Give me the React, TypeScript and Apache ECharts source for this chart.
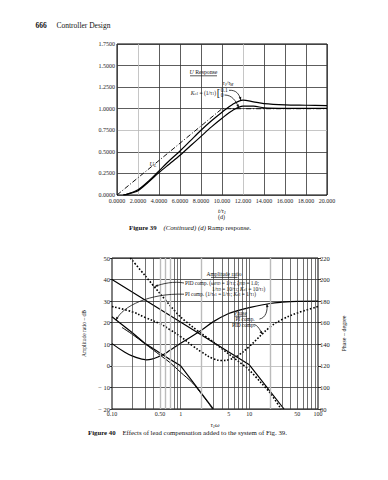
import React, { useEffect, useRef } from "react";
import * as echarts from "echarts";

const FONT = '"Liberation Serif", "DejaVu Serif", serif';

// ---------- Figure 39 (d): ramp response ----------
const rampTimes = [0, 10, 20];
const rampInput = [0, 1, 1]; // U_L
const responseTimes = [0.6, 1, 2, 3, 4, 5, 6, 7, 8, 9, 10, 11, 12, 13, 14, 16, 18, 20];
const responseTau01 = [0, 0.01, 0.06, 0.16, 0.28, 0.4, 0.51, 0.63, 0.75, 0.86, 0.96, 1.05, 1.1, 1.08, 1.06, 1.045, 1.04, 1.035];
const responseTau0 = [0, 0.01, 0.05, 0.15, 0.26, 0.36, 0.46, 0.57, 0.68, 0.79, 0.89, 0.98, 1.03, 1.03, 1.01, 1.005, 1.005, 1.005];
const rampXRange = [0, 20, 2];
const rampYRange = [0, 1.75, 0.25];

// ---------- Figure 40: lead compensation ----------
const lineAFreq = [0.1, 10, 32];
const lineAAmp = [40, 0.5, -20];
const pidAmpFreq = [0.185, 0.3, 0.5, 0.7, 1, 1.5, 2, 3, 5, 7, 10, 15, 20, 29];
const pidAmp = [50, 42, 33.5, 28, 22.6, 18, 15, 11, 5.5, 2, -2, -8, -12.5, -20];
const piAmpFreq = [0.1, 0.2, 0.3, 0.5, 0.7, 1, 3];
const piAmp = [22.8, 15.2, 10.5, 6, 3, 0, -20];
const piAmp2Freq = [0.14, 0.2, 0.3, 0.5, 0.7, 1, 1.5, 2, 2.5, 2.9];
const piAmp2 = [17.8, 14.5, 10.3, 5, 1.5, -3, -8, -13, -17, -20];
const piPhaseFreq = [0.1, 0.15, 0.2, 0.32, 0.5, 0.7, 1, 2, 3, 5, 7, 10, 20, 30, 50, 100];
const piPhase = [140.6, 133, 129, 125.6, 129, 134.4, 141, 153, 161, 168.5, 171.5, 174, 177.8, 179, 179.8, 180];
const pidPhaseFreq = [0.1, 0.2, 0.3, 0.5, 0.7, 1, 1.5, 2, 3, 4, 5, 7, 10, 20, 30, 50, 100];
const pidPhase = [175, 170, 165, 159, 153.5, 147, 138.5, 133, 126.5, 125, 125.6, 130, 138, 156, 163, 169, 175];
const ampRange = [-20, 50, 10];
const phaseRange = [80, 220, 20];
const freqRange = [0.1, 100];
const gridFreqs = [0.2, 0.3, 0.4, 0.5, 0.6, 0.7, 0.8, 0.9, 1, 2, 3, 4, 5, 6, 7, 8, 9, 10, 20, 30, 40, 50, 60, 70, 80, 90];
const grayFreqs = [0.5, 0.6, 0.7, 2, 20];
const extraFreqLabels = [0.5, 5, 50];

const pairs = (xs: number[], ys: number[]) => xs.map((x, i) => [x, ys[i]]);

const richSet = (size: number) => ({
  n: { fontFamily: FONT, fontSize: size, color: "#111", fill: "#111" },
  i: { fontFamily: FONT, fontSize: size, fontStyle: "italic", color: "#111", fill: "#111" },
  b: { fontFamily: FONT, fontSize: size, fontWeight: "bold", color: "#111", fill: "#111" },
  s: { fontFamily: FONT, fontSize: size * 0.7, color: "#111", fill: "#111", padding: [size * 0.45, 0, 0, 0] },
  si: { fontFamily: FONT, fontSize: size * 0.7, fontStyle: "italic", color: "#111", fill: "#111", padding: [size * 0.45, 0, 0, 0] },
  br: { fontFamily: FONT, fontSize: size * 1.9, color: "#111", fill: "#111" },
});

const tickFont = { fontFamily: FONT, fontSize: 6, color: "#222" };
const dotted = { color: "#000", width: 1.6, type: [1.6, 1.8] };

function buildOption(): any {
  const topXColors = Array.from({ length: 11 }, (_, i) => (i === 1 || i === 6 ? "#b8b8b8" : "#333"));
  const topYColors = Array.from({ length: 8 }, (_, i) => (i === 3 ? "#b8b8b8" : "#333"));
  const botYColors = Array.from({ length: 8 }, (_, i) => (i === 2 ? "#b8b8b8" : "#333"));
  const lineBase = { type: "line", symbol: "none", silent: true };
  return {
    animation: false,
    backgroundColor: "#fff",
    grid: [
      { left: 117, top: 44, width: 210, height: 151, show: true, borderColor: "#000", borderWidth: 1, backgroundColor: "transparent" },
      { left: 112, top: 258, width: 206, height: 151, show: true, borderColor: "#000", borderWidth: 1, backgroundColor: "transparent" },
    ],
    xAxis: [
      {
        gridIndex: 0, type: "value", min: rampXRange[0], max: rampXRange[1], interval: rampXRange[2],
        axisLine: { show: false }, axisTick: { show: false },
        axisLabel: { ...tickFont, margin: 3, formatter: (v: number) => (v < 10 ? v.toFixed(4) : v.toFixed(3)) },
        splitLine: { show: true, lineStyle: { color: topXColors, width: 0.8 } },
        name: "{i|t/τ}{si|1}", nameLocation: "middle", nameGap: 12,
        nameTextStyle: { rich: richSet(6.5) },
      },
      {
        gridIndex: 1, type: "log", logBase: 10, min: freqRange[0], max: freqRange[1],
        axisLine: { show: false }, axisTick: { show: false },
        axisLabel: { ...tickFont, margin: 2, formatter: (v: number) => (Math.abs(v - 0.1) < 1e-6 ? "0.10" : String(Math.round(v))) },
        splitLine: { show: false }, minorSplitLine: { show: false },
        name: "{i|τ}{si|1}{i|ω}", nameLocation: "middle", nameGap: 12,
        nameTextStyle: { rich: richSet(6.5) },
      },
    ],
    yAxis: [
      {
        gridIndex: 0, type: "value", min: rampYRange[0], max: rampYRange[1], interval: rampYRange[2],
        axisLine: { show: false }, axisTick: { show: false },
        axisLabel: { ...tickFont, margin: 2, formatter: (v: number) => v.toFixed(4) },
        splitLine: { show: true, lineStyle: { color: topYColors, width: 0.8 } },
      },
      {
        gridIndex: 1, type: "value", position: "left", min: ampRange[0], max: ampRange[1], interval: ampRange[2],
        axisLine: { show: false }, axisTick: { show: true, length: 2, lineStyle: { color: "#000", width: 0.8 } },
        axisLabel: { ...tickFont, fontSize: 6.5, margin: 2, formatter: (v: number) => (v < 0 ? "− " + Math.abs(v) : String(v)) },
        splitLine: { show: true, lineStyle: { color: botYColors, width: 0.8 } },
        name: "Amplitude ratio – dB", nameLocation: "middle", nameGap: 15, nameRotate: 90,
        nameTextStyle: { fontFamily: FONT, fontSize: 5.5, color: "#111" },
      },
      {
        gridIndex: 1, type: "value", position: "right", min: phaseRange[0], max: phaseRange[1], interval: phaseRange[2],
        axisLine: { show: false }, axisTick: { show: true, length: 3, lineStyle: { color: "#000", width: 0.8 } },
        axisLabel: { ...tickFont, fontSize: 6.5, margin: 2 },
        splitLine: { show: false },
        name: "Phase – degree", nameLocation: "middle", nameGap: 20, nameRotate: 90,
        nameTextStyle: { fontFamily: FONT, fontSize: 6, color: "#111" },
      },
    ],
    series: [
      { ...lineBase, xAxisIndex: 0, yAxisIndex: 0, data: pairs(rampTimes, rampInput), lineStyle: { color: "#111", width: 1, type: [5, 2, 1, 2] } },
      { ...lineBase, xAxisIndex: 0, yAxisIndex: 0, smooth: 0.3, data: pairs(responseTimes, responseTau01), lineStyle: { color: "#000", width: 1.2 } },
      { ...lineBase, xAxisIndex: 0, yAxisIndex: 0, smooth: 0.3, data: pairs(responseTimes, responseTau0), lineStyle: { color: "#000", width: 1.2 } },
      {
        ...lineBase, xAxisIndex: 1, yAxisIndex: 1, data: [], z: 1,
        markLine: {
          silent: true, symbol: ["none", "none"], label: { show: false }, animation: false,
          data: gridFreqs.map((f) => ({
            xAxis: f,
            lineStyle: grayFreqs.includes(f)
              ? { color: "#bbbbbb", width: 1.4, type: "solid" }
              : { color: "#333", width: 0.7, type: "solid" },
          })),
        },
      },
      { ...lineBase, xAxisIndex: 1, yAxisIndex: 1, data: pairs(lineAFreq, lineAAmp), lineStyle: { color: "#000", width: 1.2 } },
      { ...lineBase, xAxisIndex: 1, yAxisIndex: 1, smooth: 0.3, data: pairs(pidAmpFreq, pidAmp), lineStyle: dotted },
      { ...lineBase, xAxisIndex: 1, yAxisIndex: 1, data: pairs(piAmpFreq, piAmp), lineStyle: { color: "#000", width: 1.2 } },
      { ...lineBase, xAxisIndex: 1, yAxisIndex: 1, smooth: 0.3, data: pairs(piAmp2Freq, piAmp2), lineStyle: { color: "#000", width: 1 } },
      { ...lineBase, xAxisIndex: 1, yAxisIndex: 2, smooth: 0.4, data: pairs(piPhaseFreq, piPhase), lineStyle: { color: "#000", width: 1.2 } },
      { ...lineBase, xAxisIndex: 1, yAxisIndex: 2, smooth: 0.4, data: pairs(pidPhaseFreq, pidPhase), lineStyle: dotted },
    ],
  };
}

function txt(x: number, y: number, text: string, size: number, align = "left", extra: any = {}) {
  return {
    type: "text", x, y, silent: true, z: 100,
    style: {
      text, rich: richSet(size), fontFamily: FONT, fontSize: size, fill: "#111",
      align, verticalAlign: "middle", textAlign: align, textVerticalAlign: "middle", ...extra,
    },
  };
}

function hline(x1: number, x2: number, y: number) {
  return { type: "line", silent: true, z: 100, shape: { x1, y1: y, x2, y2: y }, style: { stroke: "#111", lineWidth: 0.7 } };
}

function arrow(p0: number[], p1: number[], p2: number[], p3: number[]) {
  const dx = p3[0] - p2[0];
  const dy = p3[1] - p2[1];
  const len = Math.hypot(dx, dy) || 1;
  const ux = dx / len, uy = dy / len;
  const L = 3.2, W = 1.3;
  const bx = p3[0] - ux * L, by = p3[1] - uy * L;
  return [
    {
      type: "bezierCurve", silent: true, z: 100,
      shape: { x1: p0[0], y1: p0[1], cpx1: p1[0], cpy1: p1[1], cpx2: p2[0], cpy2: p2[1], x2: p3[0], y2: p3[1] },
      style: { stroke: "#111", lineWidth: 0.8, fill: "none" },
    },
    {
      type: "polygon", silent: true, z: 100,
      shape: { points: [[p3[0], p3[1]], [bx - uy * W, by + ux * W], [bx + uy * W, by - ux * W]] },
      style: { fill: "#111" },
    },
  ];
}

function buildGraphics(chart: any) {
  const top = (x: number, y: number) => chart.convertToPixel({ xAxisIndex: 0, yAxisIndex: 0 }, [x, y]) as number[];
  const amp = (x: number, y: number) => chart.convertToPixel({ xAxisIndex: 1, yAxisIndex: 1 }, [x, y]) as number[];
  const ph = (x: number, y: number) => chart.convertToPixel({ xAxisIndex: 1, yAxisIndex: 2 }, [x, y]) as number[];

  const els: any[] = [];
  // page header
  els.push(txt(35.5, 25, "666", 7.5, "left", { fontWeight: "bold" }));
  els.push(txt(56.5, 25, "Controller Design", 7.5));

  // Figure 39 annotations
  els.push(txt(203.5, 72, "{i|U}{n| Response}", 5.8, "center"));
  els.push(hline(190, 217, 75.8));
  els.push(txt(228, 83.3, "{i|τ}{si|1}{i|/τ}{si|M}", 5.5, "center"));
  els.push(txt(216, 93, "{i|K}{si|c1}{n| = (1/τ}{s|1}{n|)}", 5.5, "right"));
  els.push(txt(218.5, 92.6, "{br|[}", 5.5, "center"));
  els.push(txt(220.8, 90.3, "0.1", 5.5));
  els.push(txt(220.8, 95, "0", 5.5));
  {
    const e1 = top(11.8, 1.098);
    els.push(...arrow([229, 90.3], [236, 90], [e1[0] - 2, e1[1] - 7], e1));
    const e2 = top(11.6, 1.012);
    els.push(...arrow([224.5, 95], [232, 95], [e2[0] - 3, e2[1] - 7], e2));
  }
  {
    const u = top(3.1, 0.36);
    els.push(txt(u[0], u[1], "{i|U}{si|L}", 6, "left"));
  }
  els.push(txt(221.5, 217, "(d)", 6, "center"));
  els.push(txt(129, 227.5, "{b|Figure 39}{n|    }{i|(Continued) (d)}{n| Ramp response.}", 6.8));

  // Figure 40 annotations
  els.push(txt(224, 274, "Amplitude ratio", 5.5, "center"));
  els.push(hline(211, 237.5, 277.4));
  els.push(txt(185, 283, "{n|PID comp. (ω}{s|PID}{n| = 1/τ}{s|1}{n|; ζ}{s|PID}{n| = 1.0;}", 5.3));
  els.push(txt(212, 288.6, "{n|1/τ}{s|D}{n| = 10/τ}{s|1}{n|; }{i|K}{s|c1}{n| = 10/τ}{s|1}{n|)}", 5.3));
  els.push(txt(185, 294.2, "{n|PI comp. (1/τ}{s|c1}{n| = 1/τ}{s|1}{n|; }{i|K}{s|c1}{n| = 1/τ}{s|1}{n|)}", 5.3));
  els.push(txt(240.5, 313, "Phase", 5.5, "center"));
  els.push(hline(234.5, 247, 316.2));
  els.push(txt(235.5, 319, "PI comp.", 5.3));
  els.push(txt(232, 324.6, "PID comp.", 5.3));
  {
    const e1 = amp(0.42, 36.8);
    els.push(...arrow([184, 283], [174, 281], [e1[0] + 8, e1[1] - 3], e1));
    const e2 = amp(0.115, 21.2);
    els.push(...arrow([184, 294.2], [150, 293], [e2[0] + 6, e2[1] - 14], e2));
    const e3 = ph(18, 177.4);
    els.push(...arrow([259.5, 319], [266, 318], [e3[0] + 1, e3[1] + 6], e3));
    const e4 = ph(15.5, 149.4);
    els.push(...arrow([253.5, 324.6], [258, 324.6], [e4[0] - 2, e4[1] - 3], e4));
  }
  // intermediate frequency labels (0.50, 5, 50)
  const gridBottom = amp(1, ampRange[0])[1];
  extraFreqLabels.forEach((f) => {
    const p = amp(f, ampRange[0]);
    els.push(txt(p[0], gridBottom + 5, f < 1 ? f.toFixed(2) : String(f), 6, "center", { fill: "#222" }));
  });
  els.push(txt(88, 432.5, "{b|Figure 40}{n|    Effects of lead compensation added to the system of Fig. 39.}", 6.8));
  return els;
}

export default function App() {
  const ref = useRef<HTMLDivElement>(null);
  useEffect(() => {
    const el = ref.current;
    if (!el) return;
    const chart = echarts.init(el, null, { renderer: "svg" });
    chart.setOption(buildOption());
    chart.setOption({ graphic: { elements: buildGraphics(chart) } });
    return () => {
      chart.dispose();
    };
  }, []);
  return (
    <div
      ref={ref}
      style={{ position: "absolute", left: 0, top: 0, width: 388, height: 480, background: "#fff" }}
    />
  );
}
